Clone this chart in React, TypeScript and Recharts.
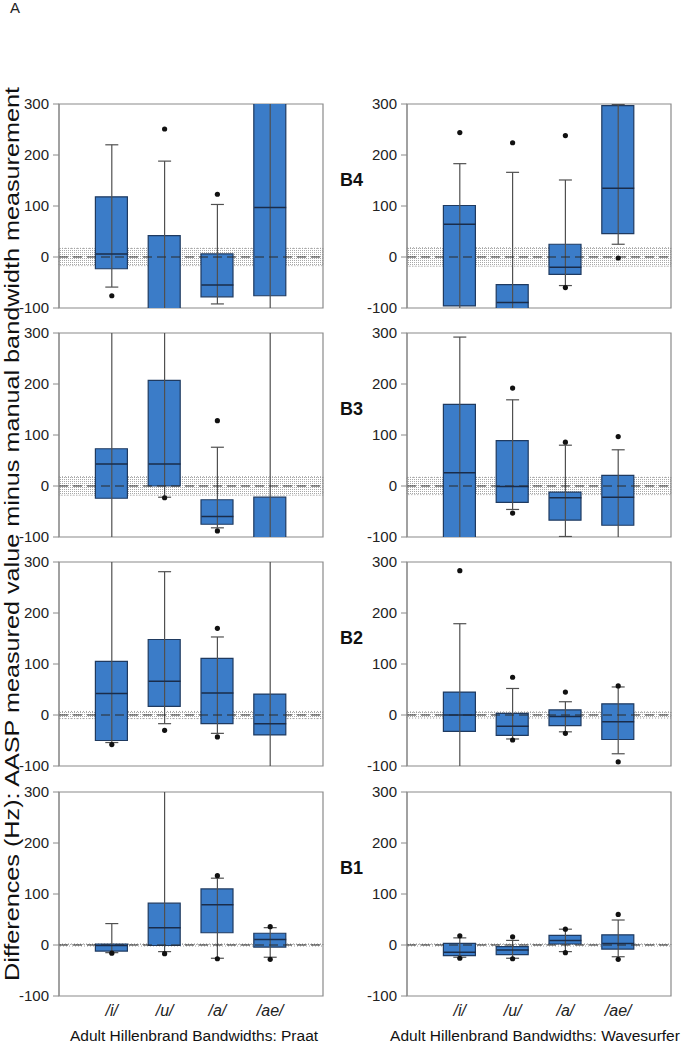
import {
  Bar,
  ComposedChart,
  ErrorBar,
  ReferenceArea,
  ReferenceLine,
  Scatter,
  XAxis,
  YAxis,
} from "recharts";

/**
 * Box plots of AASP minus manual bandwidth differences, B1–B4,
 * Praat (left column) vs Wavesurfer (right column).
 */

const VOWELS = ["/i/", "/u/", "/a/", "/ae/"];
const Y_TICKS = [-100, 0, 100, 200, 300];
const BAND_LABELS = ["B4", "B3", "B2", "B1"];

interface PanelStats {
  lo: number[];        // lower whisker end
  q1: number[];
  med: number[];
  q3: number[];
  hi: number[];        // upper whisker end
  outliers: number[][];
  band: number;        // half-width of the dotted zone round zero
}

// values beyond -100 / 300 are clipped by the plot frame
const PRAAT_B4: PanelStats = {
  lo: [-59, -180, -92, -150],
  q1: [-23, -120, -78, -76],
  med: [6, -105, -55, 97],
  q3: [118, 42, 6, 340],
  hi: [220, 188, 103, 420],
  outliers: [[-76], [251], [123], []],
  band: 17,
};
const WAVE_B4: PanelStats = {
  lo: [-104, -150, -56, 25],
  q1: [-96, -120, -34, 46],
  med: [64, -89, -20, 135],
  q3: [101, -54, 25, 297],
  hi: [183, 166, 151, 299],
  outliers: [[244], [224], [238, -60], [-2]],
  band: 18,
};
const PRAAT_B3: PanelStats = {
  lo: [-140, -22, -82, -150],
  q1: [-24, 0, -75, -130],
  med: [43, 43, -60, -110],
  q3: [73, 207, -27, -22],
  hi: [360, 360, 76, 360],
  outliers: [[], [-23], [128, -88], []],
  band: 18,
};
const WAVE_B3: PanelStats = {
  lo: [-140, -46, -99, -130],
  q1: [-120, -32, -67, -77],
  med: [26, -1, -23, -22],
  q3: [160, 89, -12, 21],
  hi: [292, 169, 80, 71],
  outliers: [[], [192, -53], [86], [97]],
  band: 17,
};
const PRAAT_B2: PanelStats = {
  lo: [-54, -17, -36, -140],
  q1: [-50, 17, -17, -39],
  med: [42, 66, 43, -17],
  q3: [105, 148, 111, 41],
  hi: [360, 281, 153, 360],
  outliers: [[-58], [-30], [170, -43], []],
  band: 7,
};
const WAVE_B2: PanelStats = {
  lo: [-140, -47, -33, -76],
  q1: [-32, -40, -21, -48],
  med: [0, -22, -3, -13],
  q3: [45, 3, 10, 22],
  hi: [179, 52, 26, 55],
  outliers: [[283], [74, -49], [45, -36], [57, -92]],
  band: 6,
};
const PRAAT_B1: PanelStats = {
  lo: [-15, -13, -26, -24],
  q1: [-12, -1, 24, -4],
  med: [-1, 34, 79, 11],
  q3: [2, 82, 110, 23],
  hi: [42, 360, 131, 34],
  outliers: [[-16], [-17], [136, -27], [36, -28]],
  band: 2,
};
const WAVE_B1: PanelStats = {
  lo: [-24, -26, -13, -23],
  q1: [-21, -19, 2, -8],
  med: [-14, -10, 9, 3],
  q3: [3, -3, 19, 20],
  hi: [14, 9, 31, 49],
  outliers: [[18, -26], [16, -27], [31, -15], [60, -28]],
  band: 2,
};

const PRAAT_PANELS = [PRAAT_B4, PRAAT_B3, PRAAT_B2, PRAAT_B1];
const WAVE_PANELS = [WAVE_B4, WAVE_B3, WAVE_B2, WAVE_B1];

const FONT = "'Liberation Sans', Arial, sans-serif";
const BOX_FILL = "#3b7cc8";
const BOX_STROKE = "#1f3a60";
const FRAME = "#8a8a8a";
const BOX_W = 32;

const ROW_TOPS = [104, 333, 562, 792];
const PLOT_H = 204;
const CHART_W = 335;
const Y_AXIS_W = 59;
const RIGHT_PAD = 12;
const TOP_PAD = 8;

function BoxPanel({
  stats,
  id,
  left,
  top,
  showX,
}: {
  stats: PanelStats;
  id: string;
  left: number;
  top: number;
  showX: boolean;
}) {
  const rows = VOWELS.map((_, i) => ({ x: i + 1, box: [stats.q1[i], stats.q3[i]] }));
  const whiskers = VOWELS.map((_, i) => ({
    x: i + 1,
    y: stats.med[i],
    err: [stats.med[i] - stats.lo[i], stats.hi[i] - stats.med[i]],
  }));
  const medians = VOWELS.map((_, i) => ({ x: i + 1, y: stats.med[i] }));
  const dots = stats.outliers.flatMap((list, i) => list.map((y) => ({ x: i + 1, y })));
  const xAxisH = showX ? 34 : 0;
  const bottomPad = showX ? 0 : 9;
  const clipId = `plot-${id}`;

  // series get clipped to the plot frame (values outside -100..300 run off the edge)
  const clipCss = `.panel-${id} .recharts-bar, .panel-${id} .recharts-scatter, .panel-${id} .recharts-errorBars, .panel-${id} .recharts-errorBar { clip-path: url(#${clipId}); }`;

  return (
    <div className={`panel-${id}`} style={{ position: "absolute", left, top: top - TOP_PAD }}>
      <style>{clipCss}</style>
      <ComposedChart
        width={CHART_W}
        height={PLOT_H + TOP_PAD + bottomPad + xAxisH}
        data={rows}
        margin={{ top: TOP_PAD, right: RIGHT_PAD, bottom: bottomPad, left: 0 }}
      >
        <defs>
          <pattern id={`dots-${id}`} width="2" height="2" patternUnits="userSpaceOnUse">
            <rect x="0" y="0" width="1" height="1" fill="#a8a8a8" />
          </pattern>
          <clipPath id={clipId}>
            <rect
              x={Y_AXIS_W}
              y={TOP_PAD}
              width={CHART_W - Y_AXIS_W - RIGHT_PAD}
              height={PLOT_H}
            />
          </clipPath>
        </defs>
        <XAxis
          dataKey="x"
          type="number"
          domain={[0, 5]}
          ticks={[1, 2, 3, 4]}
          interval={0}
          hide={!showX}
          height={xAxisH}
          axisLine={false}
          tickLine={false}
          tickSize={4}
          tickMargin={5}
          tickFormatter={(v: number) => VOWELS[v - 1] ?? ""}
          tick={{ fill: "#222", fontSize: 16, fontStyle: "italic", fontFamily: FONT }}
        />
        <YAxis
          type="number"
          domain={[-100, 300]}
          ticks={Y_TICKS}
          interval={0}
          allowDataOverflow
          width={Y_AXIS_W}
          axisLine={{ stroke: FRAME }}
          tickLine={{ stroke: FRAME }}
          tickSize={6}
          tickMargin={4}
          tick={{ fill: "#222", fontSize: 15, fontFamily: FONT }}
        />
        <ReferenceArea
          x1={0}
          x2={5}
          y1={-stats.band}
          y2={stats.band}
          fill={`url(#dots-${id})`}
          fillOpacity={1}
          stroke="#9a9a9a"
          strokeDasharray="1 2"
        />
        <Scatter
          data={whiskers}
          dataKey="y"
          shape={() => <g />}
          isAnimationActive={false}
        >
          <ErrorBar dataKey="err" direction="y" width={6.5} stroke="#505050" strokeWidth={1.2} />
        </Scatter>
        <Bar
          dataKey="box"
          barSize={BOX_W}
          fill={BOX_FILL}
          stroke={BOX_STROKE}
          strokeWidth={1.2}
          isAnimationActive={false}
        />
        <Scatter
          data={medians}
          dataKey="y"
          isAnimationActive={false}
          shape={(p: any) => (
            <line
              x1={p.cx - BOX_W / 2}
              x2={p.cx + BOX_W / 2}
              y1={p.cy}
              y2={p.cy}
              stroke="#1a2c4a"
              strokeWidth={1.5}
            />
          )}
        />
        <ReferenceLine y={0} stroke="#2a2a2a" strokeDasharray="9 5" strokeWidth={1.1} />
        <Scatter
          data={dots}
          dataKey="y"
          isAnimationActive={false}
          shape={(p: any) => <circle cx={p.cx} cy={p.cy} r={2.6} fill="#111" />}
        />
        <ReferenceArea x1={0} x2={5} y1={-100} y2={300} fill="none" stroke={FRAME} strokeWidth={1.2} />
      </ComposedChart>
    </div>
  );
}

export default function App() {
  return (
    <div
      style={{
        position: "absolute",
        left: 0,
        top: 0,
        width: 687,
        height: 1050,
        background: "#fff",
        fontFamily: FONT,
        color: "#222",
        overflow: "hidden",
      }}
    >
      <div style={{ position: "absolute", left: 10, top: 0, fontSize: 15, lineHeight: "15px" }}>A</div>

      {ROW_TOPS.map((top, r) => (
        <BoxPanel
          key={`p${r}`}
          id={`p${r}`}
          stats={PRAAT_PANELS[r]}
          left={0}
          top={top}
          showX={r === ROW_TOPS.length - 1}
        />
      ))}
      {ROW_TOPS.map((top, r) => (
        <BoxPanel
          key={`w${r}`}
          id={`w${r}`}
          stats={WAVE_PANELS[r]}
          left={348}
          top={top}
          showX={r === ROW_TOPS.length - 1}
        />
      ))}

      {ROW_TOPS.map((top, r) => (
        <div
          key={BAND_LABELS[r]}
          style={{
            position: "absolute",
            left: 340,
            top: top + 66,
            fontSize: 18,
            fontWeight: "bold",
            color: "#111",
          }}
        >
          {BAND_LABELS[r]}
        </div>
      ))}

      <div
        style={{
          position: "absolute",
          left: 12,
          top: 534,
          transform: "translate(-50%, -50%) rotate(-90deg) scaleX(1.26)",
          whiteSpace: "nowrap",
          fontSize: 20,
          color: "#111",
        }}
      >
        Differences (Hz): AASP measured value minus manual bandwidth measurement
      </div>

      <div
        style={{
          position: "absolute",
          left: 194,
          top: 1036,
          transform: "translate(-50%, -50%)",
          whiteSpace: "nowrap",
          fontSize: 15.5,
          color: "#111",
        }}
      >
        Adult Hillenbrand Bandwidths: Praat
      </div>
      <div
        style={{
          position: "absolute",
          left: 535,
          top: 1036,
          transform: "translate(-50%, -50%)",
          whiteSpace: "nowrap",
          fontSize: 15.5,
          color: "#111",
        }}
      >
        Adult Hillenbrand Bandwidths: Wavesurfer
      </div>
    </div>
  );
}
